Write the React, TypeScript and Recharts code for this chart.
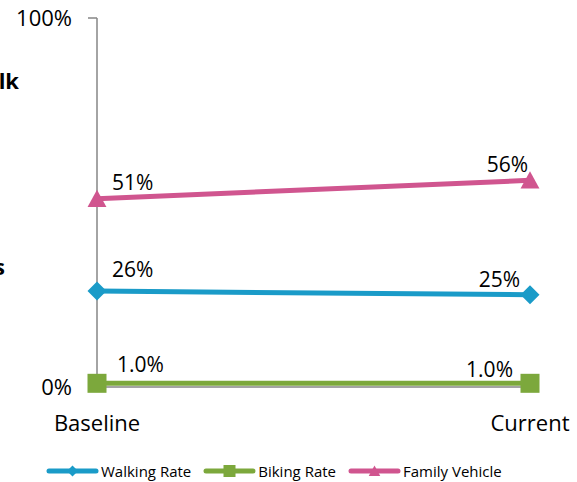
import React from 'react';
import { LineChart, Line, XAxis, YAxis, Legend } from 'recharts';

const categories = ['Baseline', 'Current'];
const walkingRate = [0.26, 0.25];
const bikingRate = [0.01, 0.01];
const familyVehicle = [0.51, 0.56];
const walkingLabels = ['26%', '25%'];
const bikingLabels = ['1.0%', '1.0%'];
const familyLabels = ['51%', '56%'];
const yTicks = [0, 1];
const yTickLabels = ['0%', '100%'];
const seriesNames = ['Walking Rate', 'Biking Rate', 'Family Vehicle'];

const data = categories.map((c, i) => ({
  name: c,
  walking: walkingRate[i],
  biking: bikingRate[i],
  family: familyVehicle[i],
}));

const FONT = '"Open Sans", "Noto Sans", sans-serif';
const AXIS = '#868686';
const BLUE = '#1A9BC8';
const GREEN = '#7CA83C';
const PINK = '#D0558F';

type Shape = 'diamond' | 'square' | 'triangle';

const Marker = ({ cx, cy, shape, color, s }: { cx: number; cy: number; shape: Shape; color: string; s: number }) => {
  if (shape === 'diamond') {
    return <path d={`M${cx},${cy - s} L${cx + s},${cy} L${cx},${cy + s} L${cx - s},${cy} Z`} fill={color} />;
  }
  if (shape === 'square') {
    return <rect x={cx - s} y={cy - s} width={2 * s} height={2 * s} fill={color} />;
  }
  return <path d={`M${cx},${cy - s} L${cx + s * 1.05},${cy + s * 0.9} L${cx - s * 1.05},${cy + s * 0.9} Z`} fill={color} />;
};

const series = [
  { key: 'walking', name: seriesNames[0], color: BLUE, shape: 'diamond' as Shape, size: 9.5, labels: walkingLabels,
    off: [{ dx: 15, dy: -14, anchor: 'start' }, { dx: -10, dy: -8, anchor: 'end' }] },
  { key: 'biking', name: seriesNames[1], color: GREEN, shape: 'square' as Shape, size: 9.5, labels: bikingLabels,
    off: [{ dx: 20, dy: -11, anchor: 'start' }, { dx: -17, dy: -6, anchor: 'end' }] },
  { key: 'family', name: seriesNames[2], color: PINK, shape: 'triangle' as Shape, size: 9, labels: familyLabels,
    off: [{ dx: 15, dy: -9, anchor: 'start' }, { dx: -2, dy: -8, anchor: 'end' }] },
];

const renderLegend = () => (
  <div style={{ display: 'flex', alignItems: 'center', height: 22, paddingLeft: 46, fontFamily: FONT, fontSize: 15, color: '#000' }}>
    {series.map((s) => (
      <div key={s.key} style={{ display: 'flex', alignItems: 'center', marginRight: 12 }}>
        <svg width={53} height={16} style={{ display: 'block' }}>
          <line x1={3} y1={8} x2={50} y2={8} stroke={s.color} strokeWidth={5} strokeLinecap="round" />
          <Marker cx={26.5} cy={8} shape={s.shape} color={s.color} s={s.shape === 'square' ? 6 : 5.5} />
        </svg>
        <span style={{ marginLeft: 2, whiteSpace: 'nowrap' }}>{s.name}</span>
      </div>
    ))}
  </div>
);

export default function App() {
  return (
    <div style={{ position: 'absolute', left: 0, top: 0, width: 577, height: 482 }}>
      <LineChart
        width={577}
        height={482}
        data={data}
        margin={{ top: 18, right: 47, left: 0, bottom: 0 }}
        style={{ fontFamily: FONT }}
      >
        <text x={19} y={89} textAnchor="end" fontFamily={FONT} fontWeight="bold" fontSize={22} fill="#000">lk</text>
        <text x={5} y={275} textAnchor="end" fontFamily={FONT} fontWeight="bold" fontSize={22} fill="#000">s</text>
        <XAxis
          dataKey="name"
          height={73}
          axisLine={{ stroke: AXIS, strokeWidth: 1.5 }}
          tickLine={{ stroke: AXIS, strokeWidth: 1.5 }}
          tickSize={5}
          tickMargin={23}
          tick={{ fill: '#000', fontSize: 22, fontFamily: FONT }}
          padding={{ left: 0, right: 0 }}
        />
        <YAxis
          width={97}
          domain={[0, 1]}
          ticks={yTicks}
          tickFormatter={(v: number) => yTickLabels[yTicks.indexOf(v)]}
          axisLine={{ stroke: AXIS, strokeWidth: 1.5 }}
          tickLine={{ stroke: AXIS, strokeWidth: 1.5 }}
          tickSize={9}
          tickMargin={16}
          tick={{ fill: '#000', fontSize: 22, fontFamily: FONT }}
        />
        <Legend verticalAlign="bottom" height={22} content={renderLegend} />
        {series.map((s) => (
          <Line
            key={s.key}
            dataKey={s.key}
            name={s.name}
            stroke={s.color}
            strokeWidth={5}
            isAnimationActive={false}
            dot={(p: any) => (
              <Marker key={`${s.key}-${p.index}`} cx={p.cx} cy={p.cy} shape={s.shape} color={s.color} s={s.size} />
            )}
            activeDot={false}
            label={(p: any) => {
              const o = s.off[p.index];
              return (
                <text
                  key={`${s.key}-l-${p.index}`}
                  x={p.x + o.dx}
                  y={p.y + o.dy}
                  textAnchor={o.anchor}
                  fontFamily={FONT}
                  fontSize={21}
                  fill="#000"
                >
                  {s.labels[p.index]}
                </text>
              );
            }}
          />
        ))}
      </LineChart>
    </div>
  );
}
